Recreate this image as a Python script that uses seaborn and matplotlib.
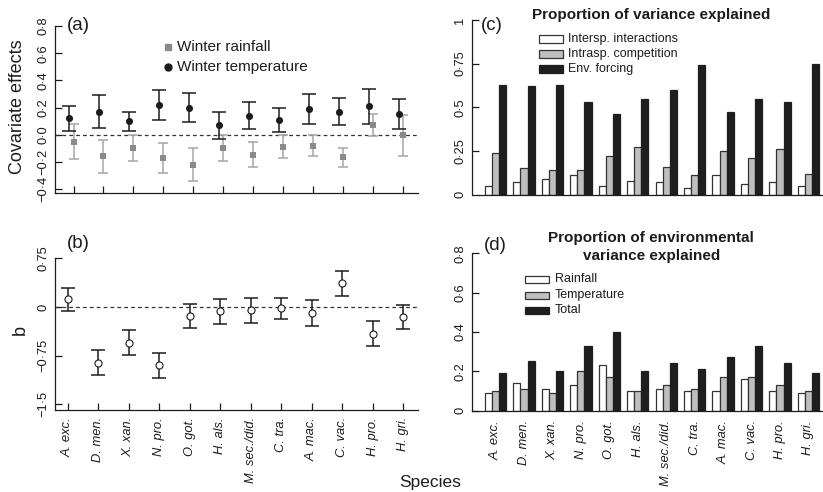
import numpy as np
import pandas as pd
import matplotlib
matplotlib.use("Agg")
import matplotlib.pyplot as plt
import seaborn as sns
from matplotlib.patches import Rectangle
from matplotlib.lines import Line2D

# ---------------- data ----------------
species = ["A. exc.", "D. men.", "X. xan.", "N. pro.", "O. got.", "H. als.",
           "M. sec./did.", "C. tra.", "A. mac.", "C. vac.", "H. pro.", "H. gri."]

temp_effect = [0.12, 0.17, 0.10, 0.22, 0.20, 0.07, 0.14, 0.11, 0.19, 0.17, 0.21, 0.15]
temp_lo = [0.03, 0.05, 0.03, 0.11, 0.09, -0.03, 0.04, 0.02, 0.08, 0.07, 0.08, 0.04]
temp_hi = [0.21, 0.29, 0.17, 0.33, 0.31, 0.17, 0.24, 0.20, 0.30, 0.27, 0.34, 0.26]

rain_effect = [-0.05, -0.16, -0.10, -0.17, -0.22, -0.10, -0.15, -0.09, -0.08, -0.165, 0.07, 0.0]
rain_lo = [-0.18, -0.28, -0.19, -0.28, -0.34, -0.19, -0.24, -0.17, -0.155, -0.24, -0.01, -0.155]
rain_hi = [0.08, -0.04, -0.005, -0.06, -0.10, -0.005, -0.05, -0.005, -0.005, -0.10, 0.15, 0.145]

b_est = [0.12, -0.86, -0.55, -0.90, -0.14, -0.06, -0.05, -0.02, -0.09, 0.37, -0.41, -0.16]
b_lo = [-0.06, -1.05, -0.745, -1.09, -0.33, -0.255, -0.24, -0.19, -0.30, 0.173, -0.60, -0.347]
b_hi = [0.29, -0.67, -0.36, -0.71, 0.05, 0.12, 0.14, 0.14, 0.11, 0.556, -0.22, 0.026]

var_inter = [0.05, 0.07, 0.09, 0.11, 0.05, 0.08, 0.07, 0.04, 0.11, 0.06, 0.07, 0.05]
var_intra = [0.24, 0.15, 0.14, 0.14, 0.22, 0.27, 0.16, 0.11, 0.25, 0.21, 0.26, 0.12]
var_env = [0.63, 0.62, 0.63, 0.53, 0.46, 0.55, 0.60, 0.74, 0.47, 0.55, 0.53, 0.75]
var_labels = ["Intersp. interactions", "Intrasp. competition", "Env. forcing"]

env_rain = [0.09, 0.14, 0.11, 0.13, 0.23, 0.10, 0.11, 0.10, 0.10, 0.16, 0.10, 0.09]
env_temp = [0.10, 0.11, 0.09, 0.20, 0.17, 0.10, 0.13, 0.11, 0.17, 0.17, 0.13, 0.10]
env_total = [0.19, 0.25, 0.20, 0.33, 0.40, 0.20, 0.24, 0.21, 0.27, 0.33, 0.24, 0.19]
env_labels = ["Rainfall", "Temperature", "Total"]

ticks_a = [-0.4, -0.2, 0.0, 0.2, 0.4, 0.6, 0.8]
ticklab_a = ["\u22120\u00b74", "\u22120\u00b72", "0\u00b70", "0\u00b72", "0\u00b74", "0\u00b76", "0\u00b78"]
ticks_b = [-1.5, -0.75, 0, 0.75]
ticklab_b = ["\u22121\u00b75", "\u22120\u00b775", "0", "0\u00b775"]
ticks_c = [0, 0.25, 0.5, 0.75, 1]
ticklab_c = ["0", "0\u00b725", "0\u00b75", "0\u00b775", "1"]
ticks_d = [0, 0.2, 0.4, 0.6, 0.8]
ticklab_d = ["0", "0\u00b72", "0\u00b74", "0\u00b76", "0\u00b78"]

# ---------------- style ----------------
sns.set_theme(style="ticks")
plt.rcParams['font.family'] = ['Liberation Sans', 'DejaVu Sans']
TXT = '#1c1c1c'
plt.rcParams['text.color'] = TXT
plt.rcParams['axes.edgecolor'] = TXT
plt.rcParams['xtick.color'] = TXT
plt.rcParams['ytick.color'] = TXT
plt.rcParams['axes.linewidth'] = 0.9

W, H = 823, 492
fig = plt.figure(figsize=(W / 100, H / 100), dpi=100)
fig.patch.set_facecolor('white')


def fx(x):
    return x / W


def fy(y):
    return 1 - y / H


def axbox(l, t, r, b):
    ax = fig.add_axes([l / W, 1 - b / H, (r - l) / W, (b - t) / H])
    ax.set_facecolor('none')
    return ax


def style_left(ax, ticks, labels, top):
    ax.set_yticks(ticks)
    ax.set_yticklabels(labels)
    ax.tick_params(axis='y', direction='in', length=5, width=0.9, pad=4,
                   labelsize=9.3, labelrotation=90)
    for lab in ax.get_yticklabels():
        lab.set_va('center')
    ax.spines['left'].set_bounds(ax.get_ylim()[0], top)
    ax.spines['top'].set_visible(False)
    ax.spines['right'].set_visible(False)


# ---------------- panel (a) ----------------
axA = axbox(55, 18, 418, 193)
xa = np.arange(len(species))
t = np.array(temp_effect)
r = np.array(rain_effect)
axA.axhline(0, color='#333333', lw=0.9, ls=(0, (3, 2.5)), zorder=1)
axA.errorbar(xa + 0.0, r, yerr=[r - np.array(rain_lo), np.array(rain_hi) - r],
             fmt='none', ecolor='#a6a6a6', elinewidth=1.1, capsize=3.5, capthick=1.1, zorder=2)
axA.errorbar(xa - 0.14, t, yerr=[t - np.array(temp_lo), np.array(temp_hi) - t],
             fmt='none', ecolor=TXT, elinewidth=1.1, capsize=5, capthick=1.1, zorder=2)
sns.scatterplot(x=xa + 0.0, y=r, ax=axA, marker='s', s=24, color='#8a8a8a',
                linewidth=0, zorder=3, legend=False)
sns.scatterplot(x=xa - 0.14, y=t, ax=axA, marker='o', s=26, color=TXT,
                linewidth=0, zorder=3, legend=False)
axA.set_xlim(-0.618, 11.50)
axA.set_ylim(-0.429, 0.859)
style_left(axA, ticks_a, ticklab_a, 0.8)
axA.set_xticks(xa)
axA.set_xticklabels([])
axA.tick_params(axis='x', direction='in', length=5, width=0.9)
axA.set_xlabel('')
axA.set_ylabel('')

# ---------------- panel (b) ----------------
axB = axbox(55, 250, 418, 410)
xb = np.arange(len(species))
bb = np.array(b_est)
axB.axhline(0, color='#333333', lw=0.9, ls=(0, (3, 2.5)), zorder=1)
axB.errorbar(xb, bb, yerr=[bb - np.array(b_lo), np.array(b_hi) - bb],
             fmt='none', ecolor=TXT, elinewidth=1.1, capsize=5, capthick=1.1, zorder=2)
sns.scatterplot(x=xb, y=bb, ax=axB, marker='o', s=26, facecolor='white',
                edgecolor=TXT, linewidth=0.8, zorder=3, legend=False)
axB.set_xlim(-0.416, 11.485)
axB.set_ylim(-1.588, 0.878)
style_left(axB, ticks_b, ticklab_b, 0.75)
axB.set_xticks(xb)
axB.set_xticklabels(species, rotation=90, fontstyle='italic', fontsize=9.3)
axB.tick_params(axis='x', direction='in', length=5, width=0.9, pad=5)
for lab in axB.get_xticklabels():
    lab.set_va('top')
axB.set_xlabel('')
axB.set_ylabel('')

# ---------------- bar panels ----------------
bar_cols = ['#ffffff', '#bfbfbf', '#1e1e1e']
edge_cols = ['#333333', '#333333', '#1e1e1e']


def bar_panel(ax, vals, labels):
    df = pd.DataFrame({
        'species': [s for lab in labels for s in species],
        'component': [lab for lab in labels for _ in species],
        'value': [v for arr in vals for v in arr],
    })
    sns.barplot(data=df, x='species', y='value', hue='component', order=species,
                hue_order=labels, palette=dict(zip(labels, bar_cols)),
                width=0.75, gap=0, errorbar=None, legend=False, ax=ax,
                saturation=1, linewidth=0.9)
    for cont, ec in zip(ax.containers, edge_cols):
        for p in cont:
            p.set_edgecolor(ec)
            p.set_linewidth(0.9)
    ax.set_xlabel('')
    ax.set_ylabel('')


axC = axbox(472, 20, 823, 194.5)
bar_panel(axC, [var_inter, var_intra, var_env], var_labels)
axC.set_xlim(-0.83, 11.51)
axC.set_ylim(0, 1)
style_left(axC, ticks_c, ticklab_c, 1)
axC.spines['bottom'].set_bounds(-0.58, 11.51)
axC.tick_params(axis='x', length=0, labelbottom=False)

axD = axbox(472, 245, 823, 410.5)
bar_panel(axD, [env_rain, env_temp, env_total], env_labels)
axD.set_xlim(-0.83, 11.51)
axD.set_ylim(0, 0.842)
style_left(axD, ticks_d, ticklab_d, 0.8)
axD.set_xticks(np.arange(len(species)))
axD.set_xticklabels(species, rotation=90, fontstyle='italic', fontsize=9.3)
axD.tick_params(axis='x', length=0, pad=7)
for lab in axD.get_xticklabels():
    lab.set_va('top')

# ---------------- texts ----------------
fig.text(fx(18), fy(107), "Covariate effects", rotation=90, ha='center', va='center', fontsize=13)
fig.text(fx(20), fy(330), "b", rotation=90, ha='center', va='center', fontsize=13)
fig.text(fx(430), fy(482), "Species", ha='center', va='center', fontsize=12.5)
fig.text(fx(67), fy(25), "(a)", ha='left', va='center', fontsize=13.5)
fig.text(fx(67), fy(243), "(b)", ha='left', va='center', fontsize=13.5)
fig.text(fx(481), fy(25), "(c)", ha='left', va='center', fontsize=13.5)
fig.text(fx(484), fy(246), "(d)", ha='left', va='center', fontsize=13.5)
fig.text(fx(651), fy(15), "Proportion of variance explained", ha='center', va='center',
         fontsize=11, fontweight='bold')
fig.text(fx(651), fy(238), "Proportion of environmental", ha='center', va='center',
         fontsize=11, fontweight='bold')
fig.text(fx(652), fy(256), "variance explained", ha='center', va='center',
         fontsize=11, fontweight='bold')

# legend (a)
fig.add_artist(Line2D([fx(168)], [fy(47)], marker='s', ms=4.8, color='#8a8a8a', lw=0,
                      transform=fig.transFigure))
fig.add_artist(Line2D([fx(168)], [fy(67)], marker='o', ms=5, color=TXT, lw=0,
                      transform=fig.transFigure))
fig.text(fx(177), fy(47), "Winter rainfall", ha='left', va='center', fontsize=11)
fig.text(fx(177), fy(67), "Winter temperature", ha='left', va='center', fontsize=11)


def box_legend(x0, rows, labels, tx):
    for yy, lab, fc, ec in zip(rows, labels, bar_cols, edge_cols):
        fig.add_artist(Rectangle((fx(x0), fy(yy + 3.5)), 24 / W, 7 / H,
                                 transform=fig.transFigure, facecolor=fc,
                                 edgecolor=ec, lw=0.9))
        fig.text(fx(tx), fy(yy), lab, ha='left', va='center', fontsize=9)


box_legend(539, [39, 54, 69], var_labels, 568)
box_legend(525, [279, 295, 310], env_labels, 555)

fig.savefig("out.png", dpi=100)
